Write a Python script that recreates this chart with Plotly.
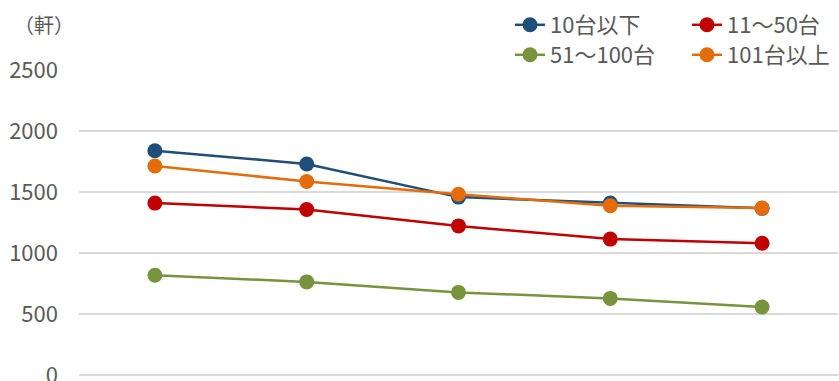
import plotly.graph_objects as go

categories = ["1", "2", "3", "4", "5"]
series_names = ["10台以下", "11～50台", "51～100台", "101台以上"]
s_10_or_less = [1838, 1730, 1458, 1410, 1366]
s_11_50 = [1409, 1357, 1222, 1114, 1080]
s_51_100 = [818, 763, 677, 628, 557]
s_101_plus = [1713, 1586, 1482, 1387, 1368]
y_ticks = [0, 500, 1000, 1500, 2000, 2500]
unit_label = "（軒）"

colors = ["#1F4E79", "#C00000", "#77933C", "#E46C0A"]
all_series = [s_10_or_less, s_11_50, s_51_100, s_101_plus]
legend_ids = ["legend", "legend2", "legend3", "legend4"]

fig = go.Figure()
for name, vals, col, lg in zip(series_names, all_series, colors, legend_ids):
    fig.add_trace(go.Scatter(
        x=categories, y=vals, name=name, mode="lines+markers",
        line=dict(color=col, width=2.5),
        marker=dict(color=col, size=15),
        legend=lg,
    ))

W, H = 839, 381
ml, mr, mt, mb = 79, 1, 70, 0
pw, ph = W - ml - mr, H - mt - mb
ymin = -6 / (ph / 2549.0)


def px_x(p):
    return (p - ml) / pw


def px_y(p):
    return 1 + (mt - p) / ph


FONT = "Noto Sans CJK JP"
GREY = "#595959"
legend_common = dict(
    orientation="h", xanchor="left", yanchor="middle",
    font=dict(family=FONT, size=22, color=GREY),
    bgcolor="rgba(0,0,0,0)", itemwidth=30,
)
leg_pos = {
    "legend": (510, 25), "legend2": (687, 25),
    "legend3": (510, 55), "legend4": (687, 55),
}
legends = {k: dict(x=px_x(v[0]), y=px_y(v[1]), **legend_common) for k, v in leg_pos.items()}

fig.update_layout(
    width=W, height=H,
    margin=dict(l=ml, r=mr, t=mt, b=mb, autoexpand=False),
    paper_bgcolor="white", plot_bgcolor="white",
    font=dict(family=FONT, size=22, color=GREY),
    showlegend=True,
    xaxis=dict(
        type="category", range=[-0.5, 4.5], showticklabels=False,
        showgrid=False, zeroline=False, showline=False, ticks="",
        automargin=False,
    ),
    yaxis=dict(
        range=[ymin, 2500], tickvals=y_ticks, ticktext=[str(v) for v in y_ticks],
        showgrid=True, gridcolor="#D9D9D9", gridwidth=1.5,
        zeroline=False, showline=False, ticks="",
        ticklabelstandoff=20, ticklabeloverflow="allow", automargin=False,
        tickfont=dict(family=FONT, size=22, color=GREY),
    ),
    annotations=[dict(
        text=unit_label, xref="paper", yref="paper",
        x=px_x(12), xanchor="left",
        y=px_y(25), yanchor="middle",
        showarrow=False, font=dict(family=FONT, size=20, color=GREY),
    )],
    **legends,
)

fig.write_html("out.html")
